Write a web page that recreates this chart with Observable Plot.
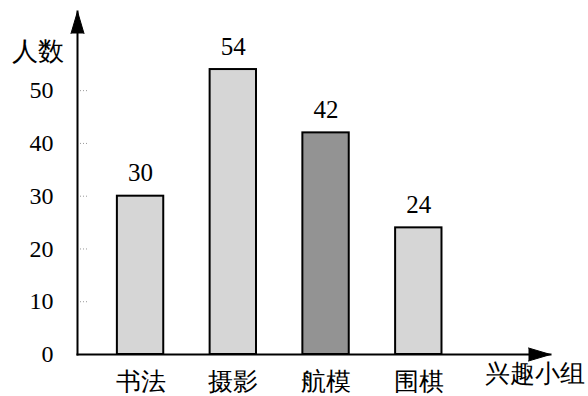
<!DOCTYPE html>
<html>
<head>
<meta charset="utf-8">
<script src="https://cdn.jsdelivr.net/npm/d3@7"></script>
<script src="https://cdn.jsdelivr.net/npm/@observablehq/plot@0.6"></script>
<style>
  html, body { margin: 0; padding: 0; background: #fff; }
  #chart { width: 588px; height: 396px; }
</style>
</head>
<body>
<div id="chart"></div>
<script>
// ---- data ----
const groups = ["书法", "摄影", "航模", "围棋"];
const counts = [30, 54, 42, 24];
const yTicks = [0, 10, 20, 30, 40, 50];
const yTitle = "人数";
const xTitle = "兴趣小组";

const table = groups.map((g, i) => ({group: g, i, count: counts[i]}));

const xDomain = [-0.68, 4.42];
const light = "#d6d6d6";
const dark = "#939393";
const serif = "Liberation Serif, DejaVu Serif, serif";

const chart = Plot.plot({
  width: 588,
  height: 396,
  marginLeft: 77,
  marginRight: 38,
  marginTop: 11,
  marginBottom: 42,
  style: {background: "#fff", color: "#000", fontFamily: serif},
  x: {type: "linear", domain: xDomain, axis: null},
  y: {domain: [0, 65], axis: null},
  marks: [
    // faint dotted tick stubs
    Plot.ruleY(yTicks.filter(v => v > 0), {x1: xDomain[0], x2: xDomain[0] + 0.12, stroke: "#999", strokeDasharray: "1,2"}),
    // bars
    Plot.rectY(table, {
      x1: d => d.i - 0.25, x2: d => d.i + 0.25, y: "count",
      fill: d => d.group === "航模" ? dark : light,
      stroke: "#000", strokeWidth: 2
    }),
    // value labels
    Plot.text(table, {x: "i", y: "count", text: d => String(d.count), dy: -15, lineAnchor: "bottom", fontSize: 25, fill: "#000"}),
    // category labels
    Plot.text(table, {x: "i", y: () => 0, text: "group", dy: 27, fontSize: 25, fill: "#000"}),
    // y tick labels
    Plot.text(yTicks, {frameAnchor: "left", y: d => d, text: d => String(d), textAnchor: "end", dx: -24, fontSize: 24, fill: "#000"}),
    // axes
    Plot.frame({anchor: "left", stroke: "#000", strokeWidth: 2}),
    Plot.frame({anchor: "bottom", stroke: "#000", strokeWidth: 2}),
    // arrowheads
    Plot.vector([0], {frameAnchor: "top-left", shape: "spike", anchor: "end", length: 22, r: 6.5, rotate: 0, fill: "#000", stroke: "#000", strokeWidth: 1}),
    Plot.vector([0], {frameAnchor: "bottom-right", shape: "spike", anchor: "end", length: 22, r: 6.5, rotate: 90, fill: "#000", stroke: "#000", strokeWidth: 1}),
    // axis titles
    Plot.text([yTitle], {frameAnchor: "top-left", text: d => d, textAnchor: "end", dx: -14, dy: 30, fontSize: 26, fill: "#000"}),
    Plot.text([xTitle], {frameAnchor: "bottom-right", text: d => d, textAnchor: "end", dx: 34, dy: 27, fontSize: 25, fill: "#000"})
  ]
});
document.getElementById("chart").appendChild(chart);
</script>
</body>
</html>
